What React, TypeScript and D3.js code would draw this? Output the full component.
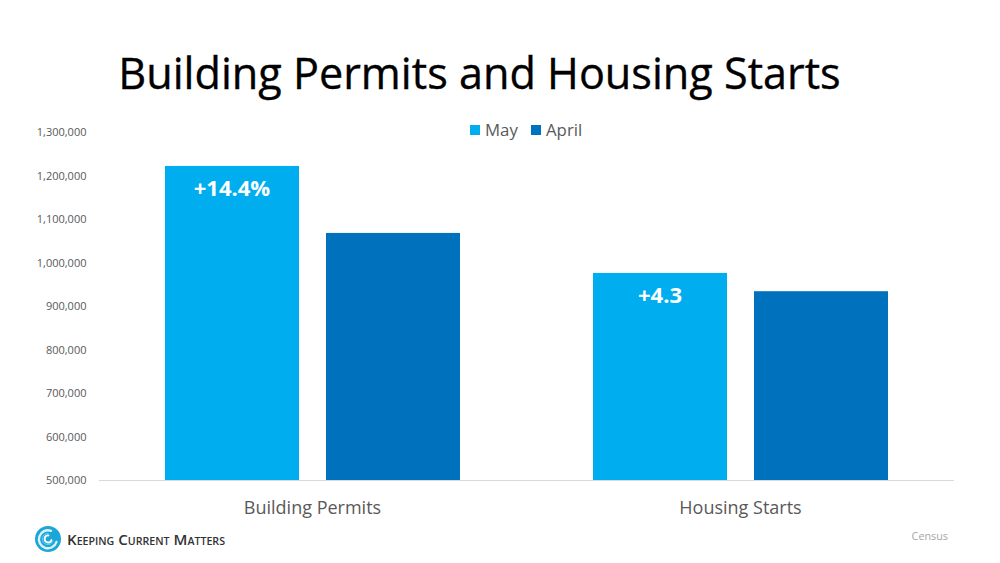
import React from "react";
import * as d3 from "d3";

const categories = ["Building Permits", "Housing Starts"];
const seriesNames = ["May", "April"];
const mayValues = [1222000, 976000];
const aprilValues = [1068000, 934000];
const tickValues = [500000, 600000, 700000, 800000, 900000, 1000000, 1100000, 1200000, 1300000];
const annotations = ["+14.4%", "+4.3"];
const colors = ["#00AEEF", "#0071BC"];
const FONT = "'Open Sans', 'Noto Sans', sans-serif";

export default function App() {
  const y = d3.scaleLinear().domain([500000, 1300000]).range([480, 132]);
  const x0 = d3.scaleBand<string>().domain(categories).range([98.5, 954.5]);
  const x1 = d3.scaleBand<string>().domain(seriesNames).range([0, x0.bandwidth()]).paddingInner(0.1677).paddingOuter(0.413);
  const fmt = d3.format(",");
  const values = [mayValues, aprilValues];
  return (
    <svg width={1000} height={563} viewBox="0 0 1000 563" style={{ position: "absolute", left: 0, top: 0, background: "#fff" }} fontFamily={FONT}>
      <text x={479.5} y={89} textAnchor="middle" fontSize={43.2} fill="#000" stroke="#000" strokeWidth={0.35}>Building Permits and Housing Starts</text>

      {tickValues.map((t) => (
        <text key={t} x={86.5} y={y(t) + 4} textAnchor="end" fontSize={11} fill="#595959">{fmt(t)}</text>
      ))}

      {categories.map((c, ci) => (
        <g key={c} transform={`translate(${x0(c)},0)`}>
          {seriesNames.map((s, si) => (
            <rect key={s} x={x1(s)} y={y(values[si][ci])} width={x1.bandwidth()} height={480 - y(values[si][ci])} fill={colors[si]} />
          ))}
          <text x={x1("May")! + x1.bandwidth() / 2} y={y(mayValues[ci]) + 30.5} textAnchor="middle" fontSize={22} fontWeight={700} fill="#fff">{annotations[ci]}</text>
          <text x={x0.bandwidth() / 2} y={513.5} textAnchor="middle" fontSize={18} fill="#595959">{c}</text>
        </g>
      ))}

      <line x1={99} x2={954} y1={480.5} y2={480.5} stroke="#D9D9D9" />

      {seriesNames.map((s, i) => (
        <g key={s} transform={`translate(${[470, 531][i]},0)`}>
          <rect x={0} y={125} width={10} height={10} fill={colors[i]} />
          <text x={15} y={135.5} fontSize={16.8} fill="#595959">{s}</text>
        </g>
      ))}

      <g fill="none" strokeLinecap="round">
        <circle cx={48} cy={539} r={13} fill="#1AA6D8" />
        <path d="M 51 530.8 A 9 9 0 1 0 56.5 542" stroke="#fff" strokeOpacity={0.85} strokeWidth={2.4} />
        <path d="M 53 541 A 5.5 5.5 0 1 1 48 533.5" stroke="#7FD6F2" strokeWidth={0.8} />
        <path d="M 51.5 540 A 3.5 3.5 0 1 1 48.5 535.5" stroke="#fff" strokeWidth={1.8} />
        <text x={67} y={545} fontSize={14.2} fontWeight={600} fill="#333" textLength={158} lengthAdjust="spacingAndGlyphs" style={{ fontVariant: "small-caps" }}>Keeping Current Matters</text>
      </g>

      <text x={948} y={540} textAnchor="end" fontSize={10.8} fill="#A6A6A6">Census</text>
    </svg>
  );
}
